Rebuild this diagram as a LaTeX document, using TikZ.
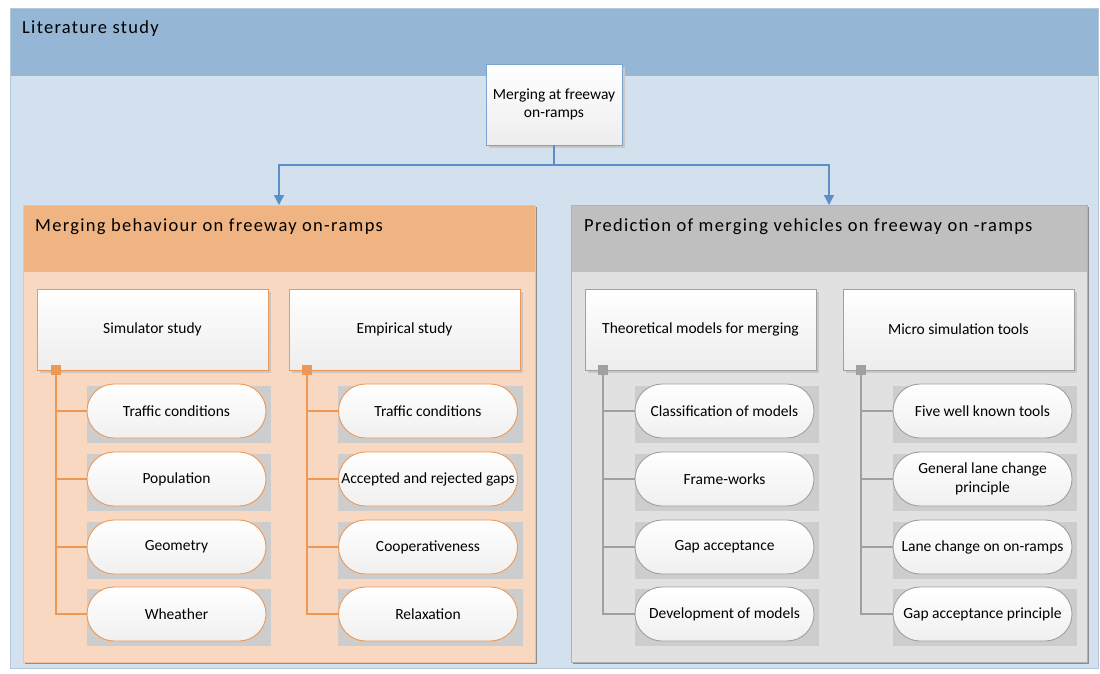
\documentclass[tikz,border=0pt]{standalone}
\usepackage{fontspec}
\setmainfont{Carlito}
\usetikzlibrary{shapes.misc,arrows.meta,shadows}
\definecolor{outerhead}{RGB}{149,182,213}
\definecolor{outerbody}{RGB}{211,225,238}
\definecolor{outerline}{RGB}{180,200,220}
\definecolor{orhead}{RGB}{240,180,130}
\definecolor{orbody}{RGB}{248,216,192}
\definecolor{orline}{RGB}{238,152,85}
\definecolor{grhead}{RGB}{191,191,191}
\definecolor{grbody}{RGB}{225,225,225}
\definecolor{grline}{RGB}{160,160,160}
\definecolor{blueline}{RGB}{91,143,199}
\definecolor{boxblue}{RGB}{123,163,207}
\definecolor{shadowgray}{RGB}{205,205,205}
\pgfdeclarelayer{bg}\pgfdeclarelayer{sh}
\pgfsetlayers{bg,sh,main}
\tikzset{
  titletext/.style={anchor=west,inner sep=0pt,font=\fontsize{18.5}{21}\selectfont\addfontfeatures{LetterSpace=7}},
  whitebox/.style={rectangle,draw=#1,line width=0.9pt,top color=white,bottom color=black!7,
     align=center,font=\fontsize{15.5}{18.5}\selectfont,
     drop shadow={shadow xshift=3pt,shadow yshift=-3pt,fill=black!22,opacity=1}},
  topbox/.style={whitebox=boxblue,minimum width=136pt,minimum height=81pt},
  subbox/.style={whitebox=#1,minimum width=231pt,minimum height=81pt},
  pill/.style={rounded rectangle,draw=#1,line width=0.9pt,top color=white,bottom color=black!6,
     align=center,font=\fontsize{15.5}{18.5}\selectfont,minimum width=183pt,minimum height=54pt,inner sep=2pt},
  marker/.style={rectangle,fill=#1,minimum size=10pt,inner sep=0pt},
  conn/.style={draw=#1,line width=1.3pt},
  bluearrow/.style={draw=blueline,line width=1.3pt,-{Triangle[width=10pt,length=10pt]}},
}
\begin{document}
\begin{tikzpicture}[x=1pt,y=-1pt]
\useasboundingbox (0,0) rectangle (1100,673);
\begin{pgfonlayer}{bg}
\fill[white] (0,0) rectangle (1100,673);
% outer container
\fill[outerbody] (10,8) rectangle (1098,668);
\fill[outerhead] (10,8) rectangle (1098,76);
\draw[outerline,line width=0.6pt] (10,8) rectangle (1098,668);
% left panel
\fill[black!45] (25,207) rectangle (537,664);
\fill[orbody] (23,205) rectangle (535,662);
\fill[orhead] (23,205) rectangle (535,272);
\draw[orline!60,line width=0.5pt] (23,205) rectangle (535,662);
% right panel
\fill[black!45] (573,207) rectangle (1089,664);
\fill[grbody] (571,205) rectangle (1087,662);
\fill[grhead] (571,205) rectangle (1087,272);
\draw[black!30,line width=0.5pt] (571,205) rectangle (1087,662);
\end{pgfonlayer}
\node[titletext] (t0) at (22,29) {Literature study};
\node[titletext] (t1) at (35,227) {Merging behaviour on freeway on-ramps};
\node[titletext] (t2) at (584,227) {Prediction of merging vehicles on freeway on -ramps};
\coordinate (lpn) at (279,205);
\coordinate (rpn) at (829,205);
% top box
\node[topbox] (top) at (554,104.5) {Merging at freeway\\on-ramps};
\coordinate (split) at (554,165);
\draw[conn=blueline] (top.south) -- (split);
\draw[bluearrow] (split) -| (lpn);
\draw[bluearrow] (split) -| (rpn);
% sub boxes
\node[subbox=orline] (s1) at (152.5,329.5) {Simulator study};
\node[subbox=orline] (s2) at (404.5,329.5) {Empirical study};
\node[subbox=grline] (s3) at (700.5,329.5) {Theoretical models for merging};
\node[subbox=grline] (s4) at (958.5,329.5) {Micro simulation tools};
% pills
\foreach \n/\x/\c/\a/\b/\cc/\d in {
  1/176.5/orline/Traffic conditions/Population/Geometry/Wheather,
  2/428/orline/Traffic conditions/Accepted and rejected gaps/Cooperativeness/Relaxation,
  3/724.5/grline/Classification of models/Frame-works/Gap acceptance/Development of models,
  4/982.5/grline/Five well known tools/{General lane change\\principle}/Lane change on on-ramps/Gap acceptance principle}{
  \node[pill=\c] (p\n a) at (\x,411) {\a};
  \node[pill=\c] (p\n b) at (\x,479) {\b};
  \node[pill=\c] (p\n c) at (\x,547) {\cc};
  \node[pill=\c] (p\n d) at (\x,614) {\d};
  \begin{pgfonlayer}{sh}
  \foreach \k in {a,b,c,d}{
    \fill[shadowgray] ([yshift=-2pt]p\n\k.west |- p\n\k.north) rectangle ([xshift=5pt,yshift=-5pt]p\n\k.east |- p\n\k.south);
  }
  \end{pgfonlayer}
}
% markers and connectors
\foreach \n/\x/\c in {1/56/orline,2/307/orline,3/603/grline,4/861/grline}{
  \node[marker=\c] (m\n) at (\x,370) {};
  \draw[conn=\c] (m\n) |- (p\n a.west);
  \draw[conn=\c] (m\n) |- (p\n b.west);
  \draw[conn=\c] (m\n) |- (p\n c.west);
  \draw[conn=\c] (m\n) |- (p\n d.west);
}
\end{tikzpicture}
\end{document}
